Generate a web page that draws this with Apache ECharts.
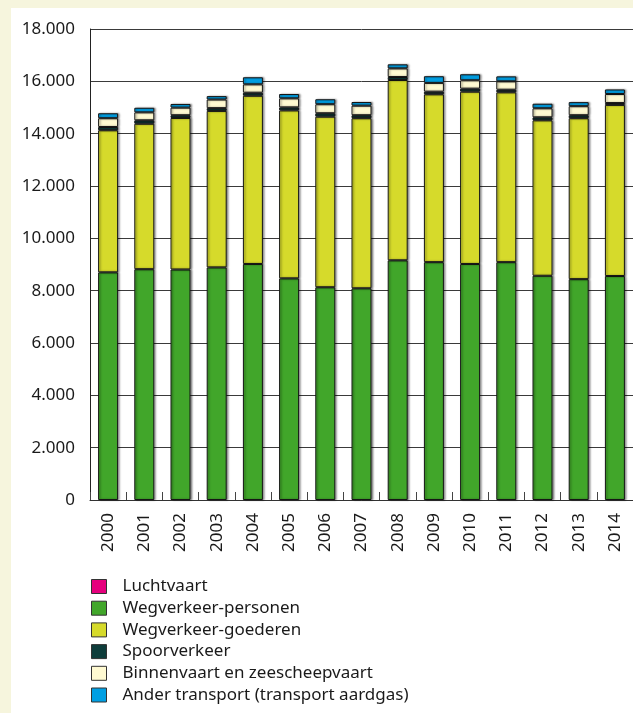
<!DOCTYPE html>
<html>
<head>
<meta charset="utf-8">
<script src="https://cdn.jsdelivr.net/npm/echarts@6/dist/echarts.min.js"></script>
<style>
  html, body { margin: 0; padding: 0; background: #f6f5dd; }
  #panel { position: absolute; left: 11px; top: 8px; width: 622px; height: 705px; background: #ffffff; }
  #chart { position: absolute; left: 0; top: 0; width: 633px; height: 713px; }
</style>
</head>
<body>
<div id="panel"></div>
<div id="chart"></div>
<script>
// Emissions from transport per sector, 2000-2014
const years = ['2000','2001','2002','2003','2004','2005','2006','2007','2008','2009','2010','2011','2012','2013','2014'];

const seriesNames = [
  'Luchtvaart',
  'Wegverkeer-personen',
  'Wegverkeer-goederen',
  'Spoorverkeer',
  'Binnenvaart en zeescheepvaart',
  'Ander transport (transport aardgas)'
];

const luchtvaart  = [0, 0, 0, 0, 0, 0, 0, 0, 0, 0, 0, 0, 0, 0, 0];
const wegPersonen = [8700, 8820, 8810, 8890, 9020, 8470, 8130, 8090, 9160, 9090, 9020, 9090, 8570, 8440, 8560];
const wegGoederen = [5430, 5560, 5790, 5980, 6430, 6420, 6520, 6500, 6890, 6415, 6585, 6490, 5940, 6150, 6540];
const spoor       = [125, 130, 105, 105, 115, 115, 130, 115, 115, 100, 115, 100, 115, 115, 70];
const binnenvaart = [335, 305, 290, 330, 320, 345, 345, 365, 330, 335, 320, 320, 345, 345, 345];
const anderTransport = [190, 175, 140, 130, 270, 165, 190, 140, 155, 255, 230, 190, 175, 155, 175];

const yTicks = [0, 2000, 4000, 6000, 8000, 10000, 12000, 14000, 16000, 18000];

const colors = ['#e5007d', '#41a62a', '#d6da2b', '#0e3d3b', '#fffad2', '#009fe3'];
const values = [luchtvaart, wegPersonen, wegGoederen, spoor, binnenvaart, anderTransport];

function thousands(v) {
  return String(v).replace(/\B(?=(\d{3})+(?!\d))/g, '.');
}

const chart = echarts.init(document.getElementById('chart'), null, { renderer: 'canvas' });

const series = seriesNames.map((name, i) => ({
  name: name,
  type: 'bar',
  stack: 'total',
  barWidth: 20,
  data: values[i],
  itemStyle: i === 0
    ? { color: colors[i], borderWidth: 0 }
    : {
        color: colors[i],
        borderColor: '#151515',
        borderWidth: 1,
        shadowColor: 'rgba(0,0,0,0.4)',
        shadowBlur: 2,
        shadowOffsetX: 1.5,
        shadowOffsetY: 0
      },
  emphasis: { disabled: true }
}));

chart.setOption({
  backgroundColor: 'transparent',
  animation: false,
  textStyle: { fontFamily: 'Noto Sans' },
  grid: { left: 90, top: 29, width: 544, bottom: 213 },
  legend: {
    orient: 'vertical',
    left: 86,
    top: 573,
    padding: [5, 5, 0, 5],
    itemWidth: 15,
    itemHeight: 14,
    itemGap: 4.7,
    icon: 'rect',
    selectedMode: false,
    itemStyle: { borderColor: '#333333', borderWidth: 1 },
    textStyle: { fontFamily: 'Noto Sans', fontSize: 17, lineHeight: 17, color: '#1a1a1a', padding: [0, 0, 0, 11] },
    data: seriesNames
  },
  xAxis: {
    type: 'category',
    data: years,
    axisLine: { lineStyle: { color: '#333333', width: 1 } },
    axisTick: { show: true, inside: true, length: 8, alignWithLabel: false, lineStyle: { color: '#444444' } },
    axisLabel: { rotate: 90, fontSize: 17, color: '#1a1a1a', margin: 13, fontFamily: 'Noto Sans' }
  },
  yAxis: {
    type: 'value',
    min: yTicks[0],
    max: yTicks[yTicks.length - 1],
    interval: yTicks[1] - yTicks[0],
    axisLine: { show: true, lineStyle: { color: '#222222', width: 1 } },
    axisTick: { show: false },
    splitLine: { lineStyle: { color: '#3a3a3a', width: 1 } },
    axisLabel: { fontSize: 17, color: '#1a1a1a', margin: 15, fontFamily: 'Noto Sans', formatter: thousands }
  },
  series: series
});
</script>
</body>
</html>
